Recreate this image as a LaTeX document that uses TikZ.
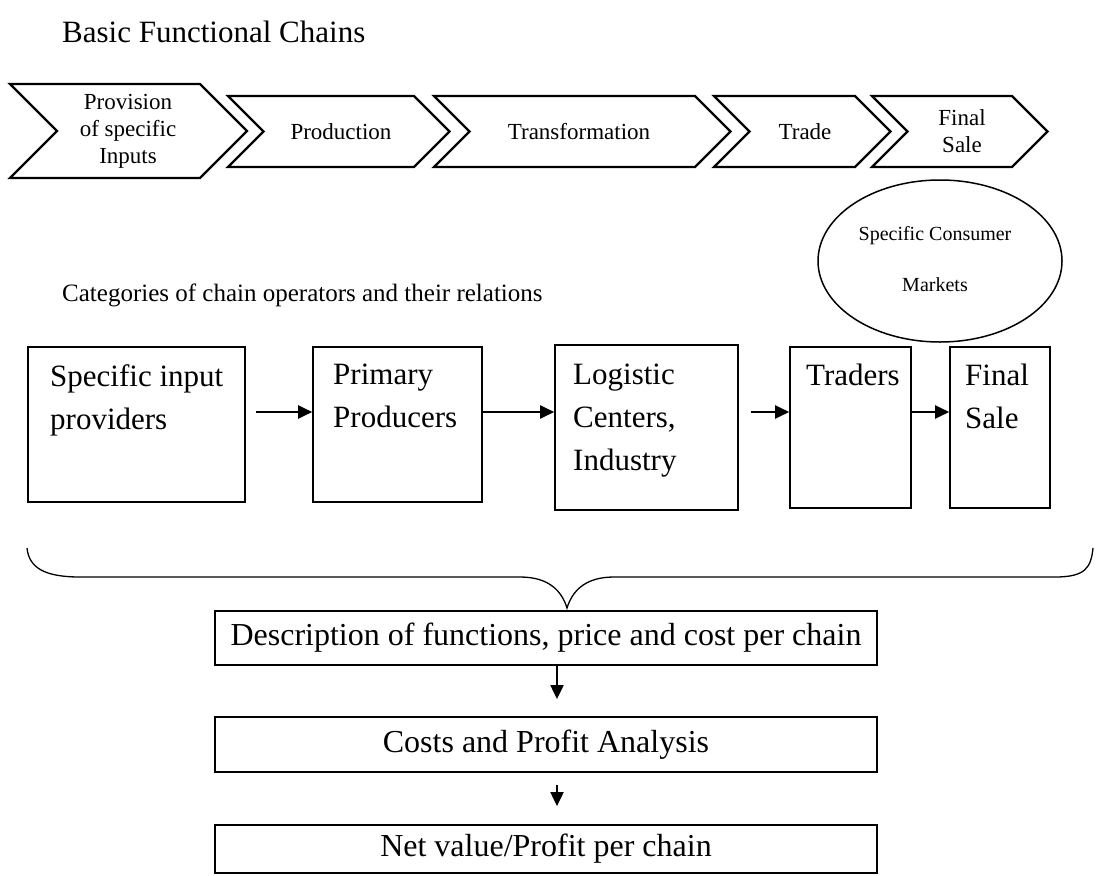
\documentclass[tikz,border=0pt]{standalone}
\usepackage{fontspec}
\setmainfont{Liberation Serif}
\usetikzlibrary{arrows.meta,calc,shapes.geometric}
\begin{document}
\begin{tikzpicture}[x=1pt,y=-1pt,
  chev/.style={draw=black,line width=2.2pt,line join=miter},
  ctext/.style={font=\fontsize{23}{27}\selectfont,align=center,inner sep=0pt},
  head/.style={anchor=west,inner sep=0pt},
  opbox/.style={draw=black,line width=1.6pt,inner sep=0pt},
  optext/.style={font=\fontsize{31}{43}\selectfont,align=left,anchor=north west,inner sep=0pt},
  resbox/.style={draw=black,line width=1.8pt,inner sep=0pt,minimum width=662pt,font=\fontsize{32}{36}\selectfont},
  mktext/.style={font=\fontsize{20}{24}\selectfont,inner sep=0pt},
  arr/.style={line width=2pt,-{Triangle[length=14pt,width=13pt]}},
]
\useasboundingbox (0,0) rectangle (1099,875);

% headings
\node[head,font=\fontsize{31}{36}\selectfont] (h1) at (62,32) {Basic Functional Chains};
\node[head,font=\fontsize{25}{30}\selectfont] (h2) at (62,295) {Categories of chain operators and their relations};

% chevrons
\draw[chev] (10,84) -- (200,84) -- (247,131) -- (200,178) -- (10,178) -- (57,131) -- cycle;
\node[ctext] (c1) at (128,131) {Provision\\of specific\\Inputs};
\draw[chev] (228,96) -- (414,96) -- (449.5,131.5) -- (414,167) -- (228,167) -- (263.5,131.5) -- cycle;
\node[ctext] (c2) at (341,131.5) {Production};
\draw[chev] (434,96) -- (695,96) -- (730.5,131.5) -- (695,167) -- (434,167) -- (469.5,131.5) -- cycle;
\node[ctext] (c3) at (579,131.5) {Transformation};
\draw[chev] (714,96) -- (855,96) -- (890.5,131.5) -- (855,167) -- (714,167) -- (749.5,131.5) -- cycle;
\node[ctext] (c4) at (805,131.5) {Trade};
\draw[chev] (872,96) -- (1012,96) -- (1047.5,131.5) -- (1012,167) -- (872,167) -- (907.5,131.5) -- cycle;
\node[ctext] (c5) at (962,131.5) {Final\\Sale};

% consumer markets ellipse
\node[draw,ellipse,line width=1.5pt,minimum width=244pt,minimum height=162pt,inner sep=0pt] (mk) at (940,261) {};
\node[mktext] (mk1) at (935,236) {Specific Consumer};
\node[mktext] (mk2) at (935,285) {Markets};

% operator boxes
\node[opbox,minimum width=217pt,minimum height=155pt] (b1) at (136.5,424.5) {};
\node[opbox,minimum width=169pt,minimum height=155pt] (b2) at (397.5,424.5) {};
\node[opbox,minimum width=183pt,minimum height=165pt] (b3) at (646.5,427.5) {};
\node[opbox,minimum width=121pt,minimum height=161pt] (b4) at (850.5,427.5) {};
\node[opbox,minimum width=100pt,minimum height=161pt] (b5) at (1000,427.5) {};
\node[optext] (t1) at (50,364) {Specific input\\providers};
\node[optext] (t2) at (333,364) {Primary\\Producers};
\node[optext] (t3) at (573,364) {Logistic\\Centers,\\Industry};
\node[optext] (t4) at (806,364) {Traders};
\node[optext] (t5) at (965,364) {Final\\Sale};

\coordinate (ry) at (0,412);
\draw[arr,shorten <=10pt] (b1.east |- ry) -- (b2.west |- ry);
\draw[arr] (b2.east |- ry) -- (b3.west |- ry);
\draw[arr,shorten <=12pt] (b3.east |- ry) -- (b4.west |- ry);
\draw[arr] (b4.east |- ry) -- (b5.west |- ry);

% brace
\draw[line width=1.3pt] (27,548) .. controls (29,568) and (45,577) .. (80,577) -- (520,577)
  .. controls (550,577) and (562,592) .. (567,608)
  .. controls (572,592) and (584,577) .. (614,577) -- (1055,577)
  .. controls (1085,577) and (1091,568) .. (1093,548);

% result boxes
\node[resbox,minimum height=54pt] (d1) at (546,638) {Description of functions, price and cost per chain};
\node[resbox,minimum height=55pt] (d2) at (546,744.5) {Costs and Profit Analysis};
\node[resbox,minimum height=48pt] (d3) at (546,849) {Net value/Profit per chain};
\coordinate (ax) at (557,0);
\draw[arr,shorten >=17pt] (d1.south -| ax) -- (d2.north -| ax);
\draw[arr,shorten <=12pt,shorten >=18pt] (d2.south -| ax) -- (d3.north -| ax);
\end{tikzpicture}
\end{document}
